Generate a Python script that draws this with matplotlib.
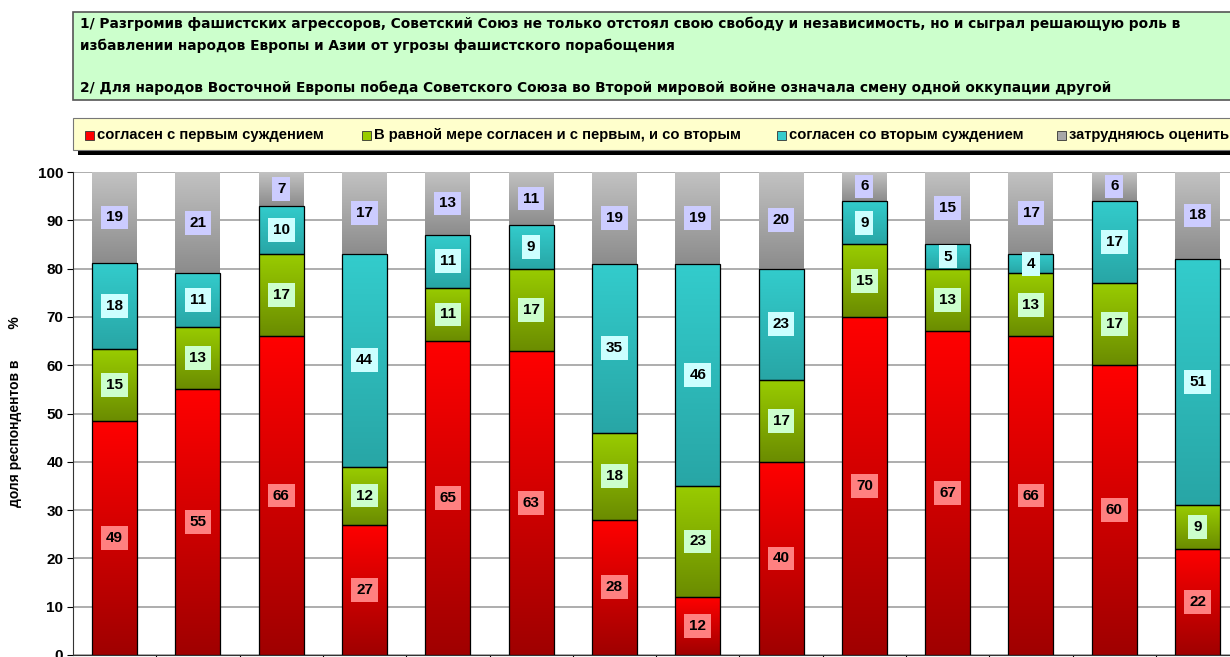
import numpy as np
import matplotlib
matplotlib.use("Agg")
import matplotlib.pyplot as plt
from matplotlib.patches import Rectangle
from matplotlib.colors import to_rgb

# ---- data ----
categories = [str(i) for i in range(1, 15)]
first = [49, 55, 66, 27, 65, 63, 28, 12, 40, 70, 67, 66, 60, 22]
both = [15, 13, 17, 12, 11, 17, 18, 23, 17, 15, 13, 13, 17, 9]
second = [18, 11, 10, 44, 11, 9, 35, 46, 23, 9, 5, 4, 17, 51]
unsure = [19, 21, 7, 17, 13, 11, 19, 19, 20, 6, 15, 17, 6, 18]
series_names = ["согласен с первым суждением",
                "В равной мере согласен и с первым, и со вторым",
                "согласен со вторым суждением",
                "затрудняюсь оценить"]
title_lines = [
    "1/ Разгромив фашистских агрессоров, Советский Союз не только отстоял свою свободу и независимость, но и сыграл решающую роль в",
    "избавлении народов Европы и Азии от угрозы фашистского порабощения",
    "2/ Для народов Восточной Европы победа Советского Союза во Второй мировой войне означала смену одной оккупации другой",
]
ylabel = "доля респондентов в        %"

# ---- styles ----
grad_top = ["#FF0000", "#99CC00", "#33CCCC", "#C2C2C2"]
grad_bot = ["#A00000", "#6B8C00", "#28A6A6", "#8C8C8C"]
label_bg = ["#FF8080", "#CCFFCC", "#CCFFFF", "#CCCCFF"]
edge_cols = ["#000000", "#000000", "#000000", "none"]

W, H = 1230, 657
fig = plt.figure(figsize=(W / 100, H / 100), dpi=100)

def fx(px):
    return px / W

def fy(py):
    return 1 - py / H

ax_left, ax_right, ax_top, ax_bot = 73, 73 + 83.3 * 14, 172, 655
ax = fig.add_axes([fx(ax_left), fy(ax_bot), fx(ax_right - ax_left), (ax_bot - ax_top) / H])

data = np.array([first, both, second, unsure], dtype=float)
totals = data.sum(axis=0)
pct = data / totals * 100.0

x = np.arange(len(categories))
bw = 0.54
bottom = np.zeros(len(categories))
for s in range(4):
    cont = ax.bar(x, pct[s], bw, bottom=bottom, color="none", edgecolor=edge_cols[s],
                  linewidth=0.9, zorder=3)
    c1 = np.array(to_rgb(grad_top[s]))
    c0 = np.array(to_rgb(grad_bot[s]))
    t = np.linspace(0, 1, 64)[:, None]
    grad = (c0 * (1 - t) + c1 * t)[:, None, :]
    for i, p in enumerate(cont.patches):
        x0, y0 = p.get_x(), p.get_y()
        w, h = p.get_width(), p.get_height()
        ax.imshow(grad, extent=[x0, x0 + w, y0, y0 + h], origin="lower",
                  aspect="auto", zorder=2, interpolation="bilinear")
        ax.text(x0 + w / 2, y0 + h / 2, f"{int(data[s][i])}", ha="center", va="center",
                fontsize=11, fontweight="bold", family="Liberation Sans", zorder=5,
                bbox=dict(boxstyle="square,pad=0.32", fc=label_bg[s], ec="none"))
    bottom = bottom + pct[s]

ax.set_xlim(-0.5, len(categories) - 0.5)
ax.set_ylim(0, 100)
ax.set_yticks(np.arange(0, 101, 10))
ax.yaxis.grid(True, color="#A0A0A0", linewidth=1.2, zorder=0)
ax.set_axisbelow(True)
ax.set_xticks(np.arange(0.5, len(categories) - 0.5, 1))
ax.set_xticklabels([])
ax.tick_params(axis="x", length=4, color="black", direction="out")
ax.tick_params(axis="y", length=4, labelsize=11, pad=3)
for lab in ax.get_yticklabels():
    lab.set_fontweight("bold")
    lab.set_family("Liberation Sans")
for sp in ["top", "right"]:
    ax.spines[sp].set_visible(False)
ax.spines["left"].set_color("#333333")
ax.spines["bottom"].set_color("#333333")

fig.text(fx(15), fy(412), ylabel, rotation=90, ha="center", va="center",
         fontsize=10, fontweight="bold", family="Liberation Sans")

# ---- title box ----
fig.add_artist(Rectangle((fx(73), fy(100)), fx(1240 - 73), (100 - 12) / H,
                         transform=fig.transFigure, fc="#CCFFCC", ec="#555555", lw=1.2, zorder=1))
for ty, line in zip([24, 46, 88], title_lines):
    fig.text(fx(80), fy(ty), line, ha="left", va="center", fontsize=9.95,
             fontweight="bold", family="DejaVu Sans", zorder=2)

# ---- legend box ----
fig.add_artist(Rectangle((fx(78), fy(155)), fx(1240 - 78), (155 - 122) / H,
                         transform=fig.transFigure, fc="black", ec="none", zorder=1))
fig.add_artist(Rectangle((fx(73), fy(150)), fx(1240 - 73), (150 - 118) / H,
                         transform=fig.transFigure, fc="#FFFFCC", ec="#777777", lw=0.8, zorder=2))
leg_sq_x = [85, 362, 777, 1057]
for s in range(4):
    fig.add_artist(Rectangle((fx(leg_sq_x[s]), fy(140)), fx(9), 9 / H,
                             transform=fig.transFigure, fc=grad_top[s] if s < 3 else "#A8A8A8",
                             ec="#333333", lw=0.6, zorder=3))
    fig.text(fx(leg_sq_x[s] + 12), fy(134.5), series_names[s], ha="left", va="center",
             fontsize=10.6, fontweight="bold", family="Liberation Sans", zorder=3)

fig.savefig("out.png", dpi=100)
